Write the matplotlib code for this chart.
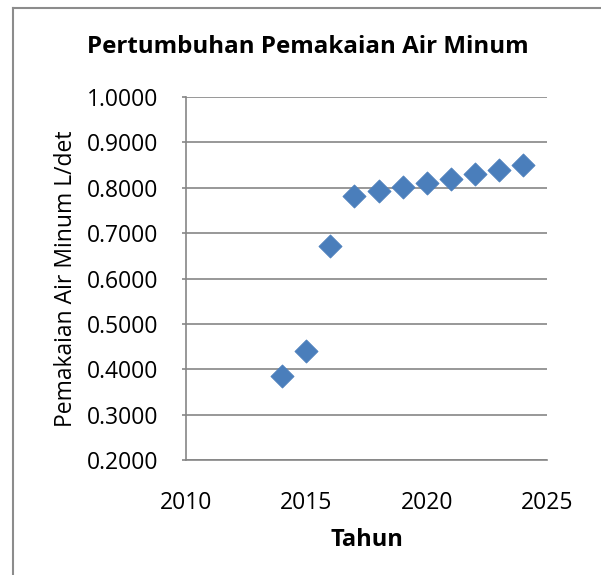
import matplotlib.pyplot as plt
from matplotlib.lines import Line2D

years = [2014, 2015, 2016, 2017, 2018, 2019, 2020, 2021, 2022, 2023, 2024]
usage = [0.385, 0.440, 0.671, 0.782, 0.792, 0.802, 0.811, 0.820, 0.830, 0.840, 0.850]

plt.rcParams["font.family"] = ["Open Sans", "DejaVu Sans"]

fig = plt.figure(figsize=(6.01, 5.75), dpi=100)
ax = fig.add_axes([186 / 601, 115 / 575, 361 / 601, 363 / 575])

grid_col = "#868686"
ax.scatter(years, usage, marker="D", s=140, color="#4A7EBB", edgecolors="#4A7EBB",
           linewidths=0.5, zorder=3, clip_on=False)

ax.set_xlim(2010, 2025)
ax.set_ylim(0.2, 1.0)
ax.set_xticks([2010, 2015, 2020, 2025])
ax.set_yticks([0.2 + 0.1 * i for i in range(9)])
ax.set_yticklabels([f"{0.2 + 0.1 * i:.4f}" for i in range(9)])
ax.yaxis.grid(True, color=grid_col, linewidth=1.2)
ax.set_axisbelow(True)

for side in ["top", "right"]:
    ax.spines[side].set_visible(False)
for side in ["left", "bottom"]:
    ax.spines[side].set_color(grid_col)
    ax.spines[side].set_linewidth(1.2)

ax.tick_params(axis="y", length=3, color=grid_col, width=1.2, pad=17, labelsize=16.5)
ax.tick_params(axis="x", length=0, pad=22, labelsize=16.5)

ax.set_xlabel("Tahun", fontsize=17, fontweight="bold", labelpad=10)
ax.set_ylabel("Pemakaian Air Minum L/det", fontsize=16.5, labelpad=6)

fig.text(308 / 601, 1 - 47 / 575, "Pertumbuhan Pemakaian Air Minum", ha="center",
         va="center", fontsize=17.4, fontweight="bold")

# chart area border (left and top edges visible)
fig.add_artist(Line2D([13 / 601, 13 / 601], [0, 1 - 8 / 575], color="#8c8c8c", lw=1.5))
fig.add_artist(Line2D([13 / 601, 1], [1 - 8 / 575, 1 - 8 / 575], color="#8c8c8c", lw=1.5))

fig.savefig("out.png", dpi=100)
